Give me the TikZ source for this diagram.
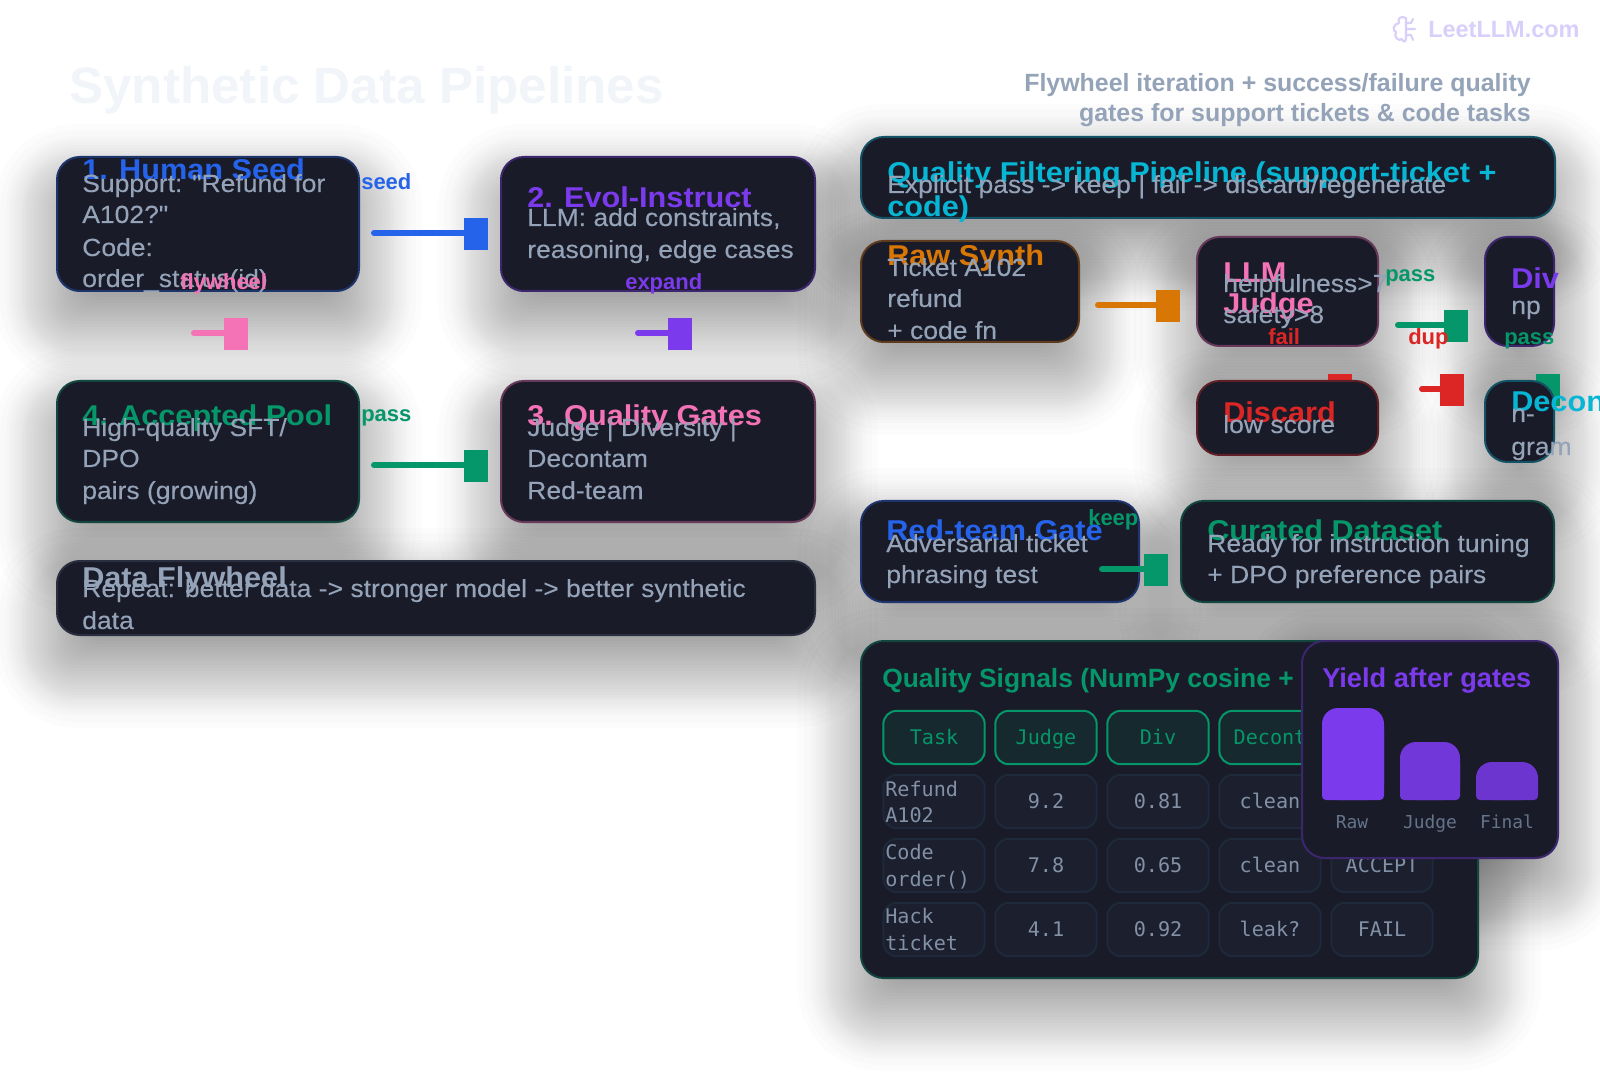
\documentclass[tikz,border=0pt]{standalone}
\usepackage{fontspec}
\setmainfont{Liberation Sans}
\setmonofont{DejaVu Sans Mono}
\newfontfamily\bodyfam[FakeStretch=1.068,FakeBold=.15]{Liberation Sans}
\newfontfamily\headfam[FakeStretch=1.07]{Liberation Sans}
\usetikzlibrary{backgrounds}
\definecolor{panelbg}{HTML}{1A1B28}
\definecolor{titlecolor}{HTML}{F1F5F9}
\definecolor{slatetxt}{HTML}{94A3B8}
\definecolor{seedblue}{HTML}{2563EB}
\definecolor{evolviolet}{HTML}{7C3AED}
\definecolor{gatepink}{HTML}{F472B6}
\definecolor{poolgreen}{HTML}{059669}
\definecolor{synthorange}{HTML}{D97706}
\definecolor{filtercyan}{HTML}{06B6D4}
\definecolor{failred}{HTML}{DC2626}
\definecolor{flyslate}{HTML}{475569}
\definecolor{cellbg}{HTML}{1C1F2E}
\definecolor{cellline}{HTML}{1E293B}
\definecolor{headbg}{HTML}{15292F}
\definecolor{celltxt}{HTML}{8291A6}
\definecolor{barlabel}{HTML}{64748B}
\definecolor{markcolor}{HTML}{D9CFFB}
\tikzset{
  card/.style n args={3}{draw=#1!35!panelbg,fill=panelbg,line width=1.5pt,rounded corners=17pt,
    minimum width=#2*.75pt-1.5pt,minimum height=#3*.75pt-1.5pt,inner sep=0pt,outer sep=0pt},
  headtext/.style={anchor=base west,inner sep=0pt,font=\headfam\fontsize{21.5}{21.5}\selectfont\bfseries},
  bodytext/.style={anchor=base west,inner sep=0pt,text=slatetxt,font=\bodyfam\fontsize{18.6}{18.6}\selectfont},
  edgelabel/.style={anchor=base west,inner sep=0pt,font=\fontsize{16.5}{16.5}\selectfont\bfseries},
  arrowbox/.style={fill=#1,draw=none,inner sep=0pt,outer sep=0pt,minimum width=18pt,minimum height=24pt},
  flowline/.style={draw=#1,line width=4.5pt,line cap=round},
  gridcell/.style={draw=cellline,fill=cellbg,line width=1.5pt,rounded corners=10pt,inner sep=0pt,
    minimum width=76pt,minimum height=40pt,text=celltxt,text height=10pt,text depth=0pt,
    font=\ttfamily\fontsize{15.1}{15.1}\selectfont},
  headcell/.style={gridcell,draw=poolgreen,fill=headbg,text=poolgreen},
  rowtext/.style={anchor=base west,inner sep=0pt,text=celltxt,font=\ttfamily\fontsize{15.1}{15.1}\selectfont},
  barlab/.style={anchor=base,inner sep=0pt,text=barlabel,font=\ttfamily\fontsize{13.4}{13.4}\selectfont},
}
\newcommand{\yieldbar}[4]{%
  \fill[#4,rounded corners=12pt] (#1,#3) rectangle (#2,800);
  \fill[#4,rounded corners=3pt] (#1,#3+18) rectangle (#2,800);}
\begin{document}
\begin{tikzpicture}[x=.75pt,y=-.75pt]
\useasboundingbox (0,0) rectangle (1600,1080);

\node[anchor=base west,inner sep=0pt,text=markcolor,font=\fontsize{17.6}{17.6}\selectfont\bfseries] (mark) at (1428,38) {LeetLLM.com};
\draw[markcolor,line width=1.6pt,line cap=round,line join=round]
  (1406,18) .. controls (1401,15) and (1397,19) .. (1399,23) .. controls (1393,24) and (1392,31) .. (1396,32)
  .. controls (1393,37) and (1399,42) .. (1402,39) .. controls (1403,43) and (1406,42) .. (1406,38) -- (1406,18)
  (1406,29) -- (1415,29) (1406,23) -- (1411,23) -- (1413,19) (1406,35) -- (1411,35) -- (1413,40);

\node[anchor=base west,inner sep=0pt,text=titlecolor,font=\fontsize{38.4}{38.4}\selectfont\bfseries] (title) at (69,104) {Synthetic Data Pipelines};
\node[anchor=base east,inner sep=0pt,text=slatetxt,font=\fontsize{18.7}{18.7}\selectfont\bfseries] (sub1) at (1531,92) {Flywheel iteration + success/failure quality};
\node[anchor=base east,inner sep=0pt,text=slatetxt,font=\fontsize{18.7}{18.7}\selectfont\bfseries] (sub2) at (1531,122) {gates for support tickets \& code tasks};

\coordinate (failT) at (1292,389);
\coordinate (cleanT) at (1496,389);
\node[arrowbox=failred]   (failH)  at (1340,390) {};
\node[arrowbox=poolgreen] (cleanH) at (1548,390) {};
\draw[flowline=failred]   (failT)  -- (failT -| failH.west);
\draw[flowline=poolgreen] (cleanT) -- (cleanT -| cleanH.west);

\node[card={seedblue}{304}{136}]    (human)    at (208,224) {};
\node[card={evolviolet}{316}{136}]  (evol)     at (658,224) {};
\node[card={gatepink}{316}{143}]    (gates)    at (658,451.5) {};
\node[card={poolgreen}{304}{143}]   (pool)     at (208,451.5) {};
\node[card={flyslate}{760}{76}]     (flywheel) at (436,598) {};
\node[card={filtercyan}{696}{83}]   (filter)   at (1208,177.5) {};
\node[card={synthorange}{220}{103}] (raw)      at (970,291.5) {};
\node[card={gatepink}{183}{111}]    (judge)    at (1287.5,291.5) {};
\node[card={evolviolet}{71}{111}]   (div)      at (1519.5,291.5) {};
\node[card={failred}{183}{76}]      (discard)  at (1287.5,418) {};
\node[card={filtercyan}{71}{83}]    (decon)    at (1519.5,421.5) {};
\node[card={seedblue}{280}{103}]    (redteam)  at (1000,551.5) {};
\node[card={poolgreen}{375}{103}]   (curated)  at (1367.5,551.5) {};
\node[card={poolgreen}{619}{339}]   (signals)  at (1169.5,809.5) {};

\node[headtext,text=seedblue]    (humanH) at (82,180)  {1. Human Seed};
\node[bodytext]                  (human1) at (82,192)  {Support: "Refund for};
\node[bodytext]                  (human2) at (82,223)  {A102?"};
\node[bodytext]                  (human3) at (82,256)  {Code:};
\node[bodytext]                  (human4) at (82,287)  {order\_status(id)};
\node[headtext,text=evolviolet]  (evolH)  at (527,208) {2. Evol-Instruct};
\node[bodytext]                  (evol1)  at (527,226) {LLM: add constraints,};
\node[bodytext]                  (evol2)  at (527,258) {reasoning, edge cases};
\node[headtext,text=poolgreen]   (poolH)  at (82,426)  {4. Accepted Pool};
\node[bodytext]                  (pool1)  at (82,436)  {High-quality SFT/};
\node[bodytext]                  (pool2)  at (82,467)  {DPO};
\node[bodytext]                  (pool3)  at (82,499)  {pairs (growing)};
\node[headtext,text=gatepink]    (gatesH) at (527,426) {3. Quality Gates};
\node[bodytext]                  (gates1) at (527,436) {Judge | Diversity |};
\node[bodytext]                  (gates2) at (527,467) {Decontam};
\node[bodytext]                  (gates3) at (527,499) {Red-team};
\node[headtext,text=slatetxt]    (flyH)   at (82,587)  {Data Flywheel};
\node[bodytext]                  (fly1)   at (82,597)  {Repeat: better data -> stronger model -> better synthetic};
\node[bodytext]                  (fly2)   at (82,629)  {data};

\node[headtext,text=filtercyan]  (filterH)  at (887,183) {Quality Filtering Pipeline (support-ticket +};
\node[headtext,text=filtercyan]  (filterH2) at (887,217) {code)};
\node[bodytext]                  (filter1)  at (887,193) {Explicit pass -> keep | fail -> discard/regenerate};
\node[headtext,text=synthorange] (rawH)     at (887,266) {Raw Synth};
\node[bodytext]                  (raw1)     at (887,276) {Ticket A102};
\node[bodytext]                  (raw2)     at (887,307) {refund};
\node[bodytext]                  (raw3)     at (887,339) {+ code fn};
\node[headtext,text=gatepink]    (judgeH)   at (1223,283) {LLM};
\node[headtext,text=gatepink]    (judgeH2)  at (1223,314) {Judge};
\node[bodytext]                  (judge1)   at (1223,292) {helpfulness>7};
\node[bodytext]                  (judge2)   at (1223,323) {safety>8};
\node[headtext,text=evolviolet]  (divH)     at (1511,289) {Div};
\node[bodytext]                  (div1)     at (1511,314) {np};
\node[headtext,text=failred]     (discardH) at (1223,423) {Discard};
\node[bodytext]                  (discard1) at (1223,433) {low score};
\node[headtext,text=filtercyan]  (deconH)   at (1511,412) {Decon};
\node[bodytext]                  (decon1)   at (1511,422) {n-};
\node[bodytext]                  (decon2)   at (1511,455) {gram};
\node[headtext,text=seedblue]    (redH)     at (886,540)  {Red-team Gate};
\node[bodytext]                  (red1)     at (886,552)  {Adversarial ticket};
\node[bodytext]                  (red2)     at (886,583)  {phrasing test};
\node[headtext,text=poolgreen]   (curH)     at (1207,540) {Curated Dataset};
\node[bodytext]                  (cur1)     at (1207,552) {Ready for instruction tuning};
\node[bodytext]                  (cur2)     at (1207,583) {+ DPO preference pairs};

\coordinate (seedT)   at (374,233);
\coordinate (passT)   at (374,465);
\coordinate (flyT)    at (194,333);
\coordinate (expandT) at (638,333);
\coordinate (rawT)    at (1098,305);
\coordinate (judgeT)  at (1398,325);
\coordinate (dupT)    at (1422,389);
\coordinate (keepT)   at (1102,569);
\node[arrowbox=seedblue]    (seedH)    at (476,234)  {};
\node[arrowbox=poolgreen]   (passH)    at (476,466)  {};
\node[arrowbox=gatepink]    (flyTip)   at (236,334)  {};
\node[arrowbox=evolviolet]  (expandH)  at (680,334)  {};
\node[arrowbox=synthorange] (rawTip)   at (1168,306) {};
\node[arrowbox=poolgreen]   (judgeTip) at (1456,326) {};
\node[arrowbox=failred]     (dupH)     at (1452,390) {};
\node[arrowbox=poolgreen]   (keepH)    at (1156,570) {};
\draw[flowline=seedblue]    (seedT)   -- (seedT -| seedH.west);
\draw[flowline=poolgreen]   (passT)   -- (passT -| passH.west);
\draw[flowline=gatepink]    (flyT)    -- (flyT -| flyTip.west);
\draw[flowline=evolviolet]  (expandT) -- (expandT -| expandH.west);
\draw[flowline=synthorange] (rawT)    -- (rawT -| rawTip.west);
\draw[flowline=poolgreen]   (judgeT)  -- (judgeT -| judgeTip.west);
\draw[flowline=failred]     (dupT)    -- (dupT -| dupH.west);
\draw[flowline=poolgreen]   (keepT)   -- (keepT -| keepH.west);

\node[edgelabel,text=seedblue]   (seedL)   at (361,190)  {seed};
\node[edgelabel,text=evolviolet] (expandL) at (625,290)  {expand};
\node[edgelabel,text=gatepink]   (flyL)    at (180,290)  {flywheel};
\node[edgelabel,text=poolgreen]  (passL)   at (361,422)  {pass};
\node[edgelabel,text=poolgreen]  (passL2)  at (1385,282) {pass};
\node[edgelabel,text=failred]    (failL)   at (1268,345) {fail};
\node[edgelabel,text=failred]    (dupL)    at (1408,345) {dup};
\node[edgelabel,text=poolgreen]  (passL3)  at (1504,345) {pass};
\node[edgelabel,text=poolgreen]  (keepL)   at (1088,525) {keep};

\node[anchor=base west,inner sep=0pt,text=poolgreen,font=\fontsize{19.8}{19.8}\selectfont\bfseries] (signalsH) at (882,687) {Quality Signals (NumPy cosine +};
\foreach \txt [count=\c] in {Task,Judge,Div,Decont,}
  \node[headcell] (hc\c) at (822+112*\c,737.5) {\txt};
\foreach \txt [count=\c] in {,9.2,0.81,clean,}
  \node[gridcell] (ra\c) at (822+112*\c,801.5) {\txt};
\foreach \txt [count=\c] in {,7.8,0.65,clean,ACCEPT}
  \node[gridcell] (rb\c) at (822+112*\c,865.5) {\txt};
\foreach \txt [count=\c] in {,4.1,0.92,leak?,FAIL}
  \node[gridcell] (rc\c) at (822+112*\c,929.5) {\txt};
\node[rowtext] (ra1a) at (885,796) {Refund};
\node[rowtext] (ra1b) at (885,822) {A102};
\node[rowtext] (rb1a) at (885,859) {Code};
\node[rowtext] (rb1b) at (885,886) {order()};
\node[rowtext] (rc1a) at (885,923) {Hack};
\node[rowtext] (rc1b) at (885,950) {ticket};

\node[card={evolviolet}{258}{219}] (yield) at (1430,749.5) {};
\node[anchor=base west,inner sep=0pt,text=evolviolet,font=\fontsize{20.4}{20.4}\selectfont\bfseries] (yieldH) at (1322,687) {Yield after gates};
\yieldbar{1322}{1384}{708}{evolviolet}
\yieldbar{1400}{1460}{742}{evolviolet!90!panelbg}
\yieldbar{1476}{1538}{762}{evolviolet!85!panelbg}
\node[barlab] (rawB)   at (1352,828) {Raw};
\node[barlab] (judgeB) at (1430,828) {Judge};
\node[barlab] (finalB) at (1507,828) {Final};

\begin{scope}[on background layer]
\fill[white] (0,0) rectangle (1600,1080);
\foreach \b in {human,evol,gates,pool,flywheel,filter,raw,judge,div,discard,decon,redteam,curated,signals,yield}
  \foreach \r in {63,57,51,48,45,42,39,36,34,32,30,27,24,21,18,15,12,9,6,3,0,-3,-6,-9,-12,-15,-18,-21,-24,-27,-30} {
    \pgfmathsetmacro{\rc}{(20+max(\r,0))*.75}
    \fill[black,opacity=.011,rounded corners=\rc pt] ([shift={(-\r,\r+30)}]\b.south west) rectangle ([shift={(\r,-\r+30)}]\b.north east);
  }
\end{scope}
\end{tikzpicture}
\end{document}
